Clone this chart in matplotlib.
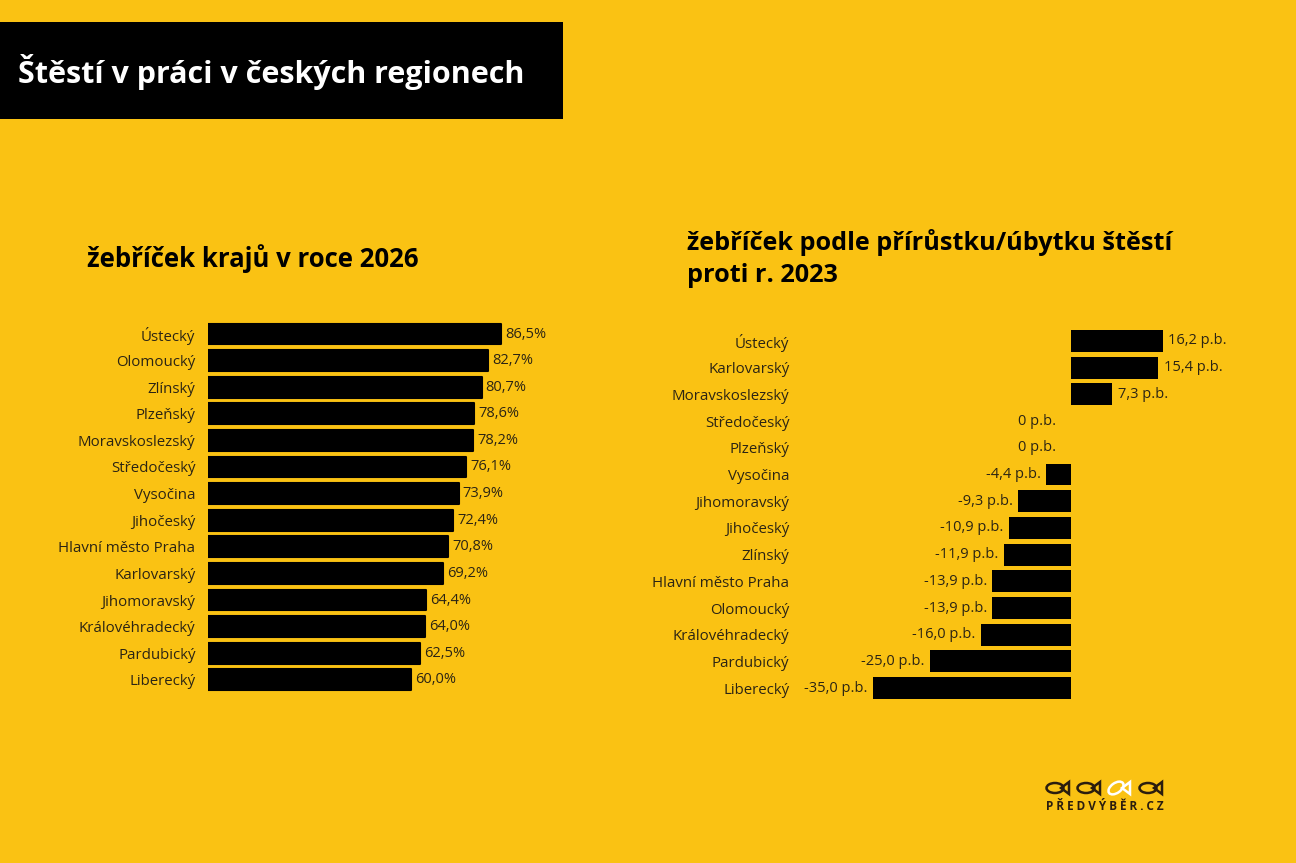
import matplotlib.pyplot as plt
from matplotlib.patches import Rectangle, Ellipse, Polygon

# data
kraje_2026 = ["Ústecký", "Olomoucký", "Zlínský", "Plzeňský", "Moravskoslezský",
              "Středočeský", "Vysočina", "Jihočeský", "Hlavní město Praha",
              "Karlovarský", "Jihomoravský", "Královéhradecký", "Pardubický", "Liberecký"]
stesti_2026 = [86.5, 82.7, 80.7, 78.6, 78.2, 76.1, 73.9, 72.4, 70.8, 69.2, 64.4, 64.0, 62.5, 60.0]

kraje_zmena = ["Ústecký", "Karlovarský", "Moravskoslezský", "Středočeský", "Plzeňský",
               "Vysočina", "Jihomoravský", "Jihočeský", "Zlínský", "Hlavní město Praha",
               "Olomoucký", "Královéhradecký", "Pardubický", "Liberecký"]
zmena = [16.2, 15.4, 7.3, 0, 0, -4.4, -9.3, -10.9, -11.9, -13.9, -13.9, -16.0, -25.0, -35.0]

zluta = "#FAC213"
txt = "#2b2414"
plt.rcParams["font.family"] = ["Open Sans", "DejaVu Sans"]

W, H = 1296, 863
fig = plt.figure(figsize=(W / 100, H / 100), dpi=100, facecolor=zluta)

def px(x0, y0, x1, y1):
    # pixel box (top-left origin) -> figure fraction
    return [x0 / W, 1 - y1 / H, (x1 - x0) / W, (y1 - y0) / H]

# title box
fig.patches.append(Rectangle((0, 1 - 119 / H), 563 / W, 97 / H, transform=fig.transFigure,
                             facecolor="black", edgecolor="none"))
fig.text(18 / W, 1 - 72 / H, "Štěstí v práci v českých regionech", color="white",
         fontsize=22, fontweight="bold", va="center", ha="left")

fig.text(87 / W, 1 - 259 / H, "žebříček krajů v roce 2026", color="black",
         fontsize=18.5, fontweight="bold", va="center")
fig.text(687 / W, 1 - 242 / H, "žebříček podle přírůstku/úbytku štěstí", color="black",
         fontsize=18.2, fontweight="bold", va="center")
fig.text(687 / W, 1 - 275 / H, "proti r. 2023", color="black",
         fontsize=18.2, fontweight="bold", va="center")

# left chart
ax1 = fig.add_axes(px(208, 320.7, 547, 693.1))
ax1.set_facecolor("none")
y1 = range(len(kraje_2026))
ax1.barh(y1, stesti_2026, height=0.78, color="black", edgecolor="black",
         linewidth=1.5, joinstyle="round")
ax1.set_xlim(0, 100)
ax1.set_ylim(len(kraje_2026) - 0.5, -0.5)
ax1.set_yticks(list(y1))
ax1.set_yticklabels(kraje_2026, fontsize=10.8, color=txt)
ax1.tick_params(axis="y", length=0, pad=9)
ax1.set_xticks([])
for s in ax1.spines.values():
    s.set_visible(False)
for yy, v in zip(y1, stesti_2026):
    ax1.annotate(f"{v:.1f}%".replace(".", ","), (v, yy), xytext=(3, 0),
                 textcoords="offset points", va="center", ha="left",
                 fontsize=10.5, color=txt)

# right chart
ax2 = fig.add_axes(px(845, 327.65, 1212.25, 701.45))
ax2.set_facecolor("none")
y2 = range(len(kraje_zmena))
ax2.barh(y2, zmena, height=0.82, color="black", edgecolor="none")
ax2.set_xlim(-40, 25)
ax2.set_ylim(len(kraje_zmena) - 0.5, -0.5)
ax2.set_yticks(list(y2))
ax2.set_yticklabels(kraje_zmena, fontsize=10.8, color=txt)
ax2.tick_params(axis="y", length=0, pad=40)
ax2.set_xticks([])
for s in ax2.spines.values():
    s.set_visible(False)
for yy, v in zip(y2, zmena):
    lab = ("0" if v == 0 else f"{v:.1f}".replace(".", ",")) + " p.b."
    if v > 0:
        ax2.annotate(lab, (v, yy), xytext=(4, 0), textcoords="offset points",
                     va="center", ha="left", fontsize=10.5, color=txt)
    elif v < 0:
        ax2.annotate(lab, (v, yy), xytext=(-4, 0), textcoords="offset points",
                     va="center", ha="right", fontsize=10.5, color=txt)
    else:
        ax2.annotate(lab, (v, yy), xytext=(-11, 0), textcoords="offset points",
                     va="center", ha="right", fontsize=10.5, color=txt)

# logo
logo = fig.add_axes(px(1044, 776, 1168, 798))
logo.set_xlim(0, 124)
logo.set_ylim(22, 0)
logo.axis("off")
for cx, col, ang in [(11, "#2b1d0e", 0), (42, "#2b1d0e", 0), (72, "white", -35), (104, "#2b1d0e", 0)]:
    logo.add_patch(Ellipse((cx, 12), 17, 10, angle=ang, fill=False, edgecolor=col, linewidth=1.8))
    logo.add_patch(Polygon([(cx + 6, 12), (cx + 14, 6), (cx + 14, 18)], closed=True,
                           fill=False, edgecolor=col, linewidth=1.8))
fig.text(1105 / W, 1 - 806 / H, "P Ř E D V Ý B Ě R . C Z", color="#2b1d0e",
         fontsize=8.5, fontweight="bold", ha="center", va="center")

fig.savefig("out.png", dpi=100, facecolor=zluta)
